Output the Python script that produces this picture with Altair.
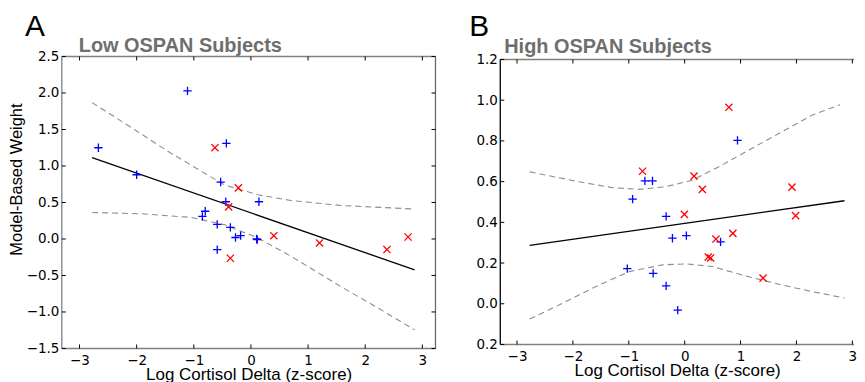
import altair as alt
import pandas as pd

# ---------------- data ----------------
panel_letters = ["A", "B"]
panel_titles = ["Low OSPAN Subjects", "High OSPAN Subjects"]
x_title = "Log Cortisol Delta (z-score)"
y_title = "Model-Based Weight"

x_ticks = [-3, -2, -1, 0, 1, 2, 3]
a_y_ticks = [-1.5, -1.0, -0.5, 0.0, 0.5, 1.0, 1.5, 2.0, 2.5]
b_y_ticks = [-0.2, 0.0, 0.2, 0.4, 0.6, 0.8, 1.0, 1.2]

# Panel A (Low OSPAN)
a_blue_x = [-1.11, -2.67, -0.43, -2.00, -0.53, -0.44, 0.14, -0.80, -0.85, -0.59, -0.36, -0.18, -0.27, 0.10, 0.11, -0.59]
a_blue_y = [2.03, 1.25, 1.31, 0.88, 0.78, 0.51, 0.51, 0.38, 0.31, 0.20, 0.16, 0.045, 0.02, 0.00, -0.01, -0.145]
a_red_x = [-0.63, -0.22, -0.39, 0.40, 1.20, 2.38, 2.75, -0.36]
a_red_y = [1.25, 0.70, 0.44, 0.045, -0.055, -0.145, 0.027, -0.264]
a_fit_x = [-2.78, 2.865]
a_fit_y = [1.114, -0.423]
a_up_x = [-2.78, -2.02, -1.44, -0.86, -0.46, 0.12, 0.70, 1.58, 2.865]
a_up_y = [1.868, 1.49, 1.195, 0.923, 0.74, 0.605, 0.527, 0.459, 0.41]
a_lo_x = [-2.78, -1.91, -1.04, -0.46, 0.12, 0.70, 1.58, 2.21, 2.865]
a_lo_y = [0.363, 0.345, 0.295, 0.195, 0.014, -0.236, -0.655, -0.94, -1.245]

# Panel B (High OSPAN)
b_blue_x = [0.945, -0.712, -0.576, -0.932, -0.332, 0.030, -0.219, 0.642, -1.027, -0.564, -0.332, -0.124]
b_blue_y = [0.803, 0.604, 0.604, 0.514, 0.429, 0.335, 0.322, 0.304, 0.173, 0.149, 0.088, -0.031]
b_red_x = [0.791, -0.754, 0.167, 0.316, 1.92, 1.985, -0.005, 0.862, 0.559, 0.422, 0.464, 1.403]
b_red_y = [0.965, 0.651, 0.627, 0.562, 0.573, 0.433, 0.439, 0.346, 0.318, 0.230, 0.225, 0.126]
b_fit_x = [-2.774, 2.859]
b_fit_y = [0.287, 0.506]
b_up_x = [-2.774, -1.883, -1.289, -0.81, -0.338, 0.137, 0.613, 1.088, 1.682, 2.276, 2.781]
b_up_y = [0.648, 0.599, 0.570, 0.562, 0.575, 0.607, 0.673, 0.746, 0.836, 0.926, 0.978]
b_lo_x = [-2.774, -2.18, -1.586, -0.992, -0.397, 0.018, 0.494, 1.088, 1.682, 2.276, 2.859]
b_lo_y = [-0.075, 0.003, 0.085, 0.158, 0.191, 0.196, 0.183, 0.137, 0.096, 0.060, 0.028]

# ---------------- styling ----------------
PLUS = "M-1,0L1,0M0,-1L0,1"
CROSS = "M-1,-1L1,1M-1,1L1,-1"
LABEL_FONT = "DejaVu Sans"
TITLE_FONT = "Liberation Sans"
TICK_LEN = 4
SPINE_GRAY = "#808080"


def panel(idx, bx, by, rx, ry, fx, fy, ux, uy, lx, ly, xdom, ydom, yticks,
          w, h, yfmt_expr, show_ytitle, left_color, right_spine,
          letter_pos, title_pos):
    xs = alt.Scale(domain=xdom, nice=False, zero=False)
    ys = alt.Scale(domain=ydom, nice=False, zero=False)
    xaxis = alt.Axis(values=x_ticks, format="d", title=x_title, grid=False,
                     domain=False, ticks=False, labelPadding=5, titlePadding=0,
                     labelFont=LABEL_FONT, labelFontSize=13.5, labelColor="black",
                     titleFont=TITLE_FONT, titleFontSize=17, titleFontWeight="normal",
                     titleColor="black")
    yaxis = alt.Axis(values=yticks, grid=False, ticks=False, labelPadding=3,
                     labelFont=LABEL_FONT, labelFontSize=13.5, labelColor="black",
                     labelExpr=yfmt_expr, domain=False,
                     titleFont=TITLE_FONT, titleFontSize=16.5, titleFontWeight="normal",
                     titleColor="black", titlePadding=2, titleY=123)
    yt = y_title if show_ytitle else None

    def X(f):
        return alt.X(f, type="quantitative", scale=xs, axis=xaxis)

    def Y(f):
        return alt.Y(f, type="quantitative", scale=ys, axis=yaxis, title=yt)

    blue = pd.DataFrame({"x": bx, "y": by})
    red = pd.DataFrame({"x": rx, "y": ry})
    fit = pd.DataFrame({"x": fx, "y": fy})
    band = pd.concat([
        pd.DataFrame({"x": ux, "y": uy, "b": "upper"}),
        pd.DataFrame({"x": lx, "y": ly, "b": "lower"}),
    ])
    ytop, ybot = yticks[-1], yticks[0]
    xt = pd.DataFrame({"v": x_ticks, "ytop": ytop, "ybot": ybot})
    ytk = pd.DataFrame({"v": yticks})
    frame = pd.DataFrame({"ytop": [ytop], "ybot": [ybot]})
    letter = pd.DataFrame({"t": [panel_letters[idx]]})
    ptitle = pd.DataFrame({"t": [panel_titles[idx]]})

    band_l = alt.Chart(band).mark_line(color="#8c8c8c", strokeWidth=1.1,
                                       strokeDash=[6, 4]).encode(
        x=X("x"), y=Y("y"), detail="b:N")
    fit_l = alt.Chart(fit).mark_line(color="black", strokeWidth=1.3).encode(
        x=X("x"), y=Y("y"))
    blue_l = alt.Chart(blue).mark_point(shape=PLUS, size=70, color="#0000ff",
                                        filled=False, strokeWidth=1.3,
                                        opacity=1).encode(x=X("x"), y=Y("y"))
    red_l = alt.Chart(red).mark_point(shape=CROSS, size=52, color="#ff0000",
                                      filled=False, strokeWidth=1.3,
                                      opacity=1).encode(x=X("x"), y=Y("y"))

    # frame (spines)
    top_sp = alt.Chart(frame).mark_rule(color=SPINE_GRAY, strokeWidth=1.6).encode(
        y=Y("ytop"), x=alt.value(0), x2=alt.value(w))
    bot_sp = alt.Chart(frame).mark_rule(color=SPINE_GRAY, strokeWidth=1.6).encode(
        y=Y("ybot"), x=alt.value(0), x2=alt.value(w))
    left_sp = alt.Chart(frame).mark_rule(color=left_color, strokeWidth=1.3).encode(
        y=Y("ytop"), y2=alt.Y2("ybot"), x=alt.value(0))
    layers = [band_l, fit_l, blue_l, red_l, top_sp, bot_sp, left_sp]
    if right_spine:
        right_sp = alt.Chart(frame).mark_rule(color="#6a6a6a", strokeWidth=1.3).encode(
            y=Y("ytop"), y2=alt.Y2("ybot"), x=alt.value(w))
        layers.append(right_sp)

    # inward ticks
    tick_style = dict(color="black", strokeWidth=1)
    xt_bottom = alt.Chart(xt).mark_rule(y2Offset=-TICK_LEN, **tick_style).encode(
        x=X("v"), y=Y("ybot"), y2=alt.Y2("ybot"))
    xt_top = alt.Chart(xt).mark_rule(y2Offset=TICK_LEN, **tick_style).encode(
        x=X("v"), y=Y("ytop"), y2=alt.Y2("ytop"))
    yt_left = alt.Chart(ytk).mark_rule(**tick_style).encode(
        y=Y("v"), x=alt.value(0), x2=alt.value(TICK_LEN))
    layers += [xt_bottom, xt_top, yt_left]
    if right_spine:
        yt_right = alt.Chart(ytk).mark_rule(**tick_style).encode(
            y=Y("v"), x=alt.value(w - TICK_LEN), x2=alt.value(w))
        layers.append(yt_right)

    letter_l = alt.Chart(letter).mark_text(
        font=TITLE_FONT, fontSize=30, align="left", baseline="alphabetic",
        color="black").encode(text="t:N", x=alt.value(letter_pos[0]),
                              y=alt.value(letter_pos[1]))
    title_l = alt.Chart(ptitle).mark_text(
        font=TITLE_FONT, fontSize=20, fontWeight="bold", align="left",
        baseline="alphabetic", color="#6e6e6e").encode(
        text="t:N", x=alt.value(title_pos[0]), y=alt.value(title_pos[1]))
    layers += [letter_l, title_l]

    return alt.layer(*layers).properties(width=w, height=h)


left = panel(0, a_blue_x, a_blue_y, a_red_x, a_red_y, a_fit_x, a_fit_y,
             a_up_x, a_up_y, a_lo_x, a_lo_y, [-3.31, 3.23], [-1.5, 2.5], a_y_ticks,
             375, 293, "format(datum.value, '.1f')", True, SPINE_GRAY, True,
             (-37, -21), (17, -5))
right = panel(1, b_blue_x, b_blue_y, b_red_x, b_red_y, b_fit_x, b_fit_y,
              b_up_x, b_up_y, b_lo_x, b_lo_y, [-3.3, 3.03], [-0.2, 1.2147], b_y_ticks,
              355, 289, "format(abs(datum.value), '.1f')", False, "black", False,
              (-31, -21), (4, -4))

chart = alt.hconcat(left, right, spacing=33).properties(
    padding={"left": 0, "top": 3, "right": 0, "bottom": 0},
    background="white",
).configure_view(stroke=None)

chart.save("out.html", embed_options={"renderer": "svg", "actions": False})
